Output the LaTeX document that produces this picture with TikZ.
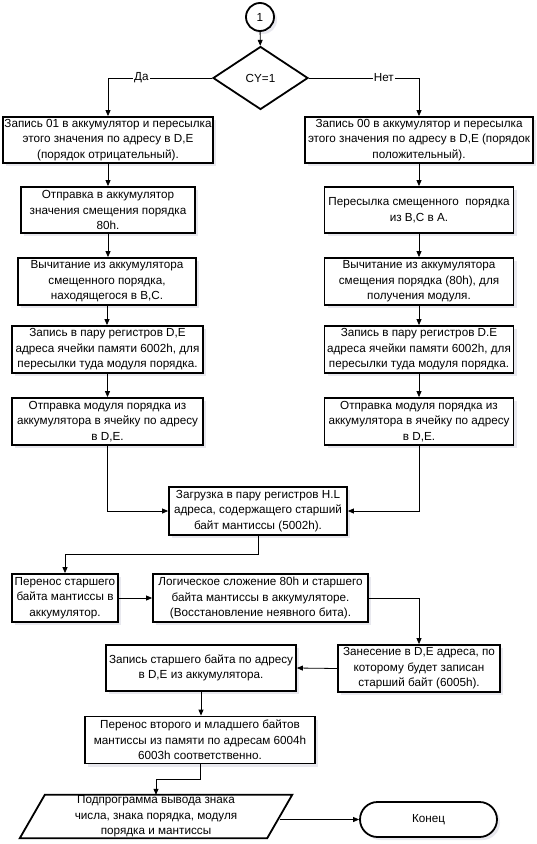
\documentclass[tikz,border=0pt]{standalone}
\usepackage{fontspec}
\setmainfont{Liberation Sans}
\usetikzlibrary{shapes.geometric,shadows,arrows.meta}
\tikzset{
  txt/.style={font=\fontsize{11.7}{15.5}\selectfont},
  shd/.style={drop shadow={shadow xshift=3pt, shadow yshift=-3pt, fill=blue!30!black!15, opacity=0.6}},
  blk/.style={draw, line width=1.8pt, align=center, inner xsep=1pt, inner ysep=1pt, txt, fill=white, shd},
  arr/.style={-{Triangle[length=6pt,width=5pt]}, line width=0.8pt},
  lbl/.style={fill=white, inner sep=1pt, txt},
}
\begin{document}
\begin{tikzpicture}[x=1pt, y=-1pt]
\useasboundingbox[fill=white] (0,0) rectangle (537,844);

\node[circle, draw, line width=1.8pt, minimum size=28pt, inner sep=0pt, txt, fill=white, shd] (c1) at (260,17) {1};
\node[diamond, draw, line width=1.8pt, minimum width=95pt, minimum height=63pt, inner sep=0pt, txt, fill=white] (d) at (260.5,78) {CY=1};

% left column
\node[blk, minimum width=210pt, minimum height=46pt] (L1) at (108,140) {Запись 01 в аккумулятор и пересылка\\этого значения по адресу в D,E\\(порядок отрицательный).};
\node[blk, minimum width=174pt, minimum height=46pt] (L2) at (108,210) {Отправка в аккумулятор\\значения смещения порядка\\80h.};
\node[blk, minimum width=178pt, minimum height=47pt] (L3) at (107,281.5) {Вычитание из аккумулятора\\смещенного порядка,\\находящегося в B,C.};
\node[blk, minimum width=191pt, minimum height=47pt] (L4) at (107.5,349.5) {Запись в пару регистров D,E\\адреса ячейки памяти 6002h, для\\пересылки туда модуля порядка.};
\node[blk, minimum width=191pt, minimum height=47pt] (L5) at (107.5,421.5) {Отправка модуля порядка из\\аккумулятора в ячейку по адресу\\в D,E.};

% right column
\node[blk, minimum width=228pt, minimum height=46pt] (R1) at (419,140) {Запись 00 в аккумулятор и пересылка\\этого значения по адресу в D,E (порядок\\положительный).};
\node[blk, minimum width=189pt, minimum height=46pt] (R2) at (419,210) {Пересылка смещенного\ \ порядка\\из B,C в A.};
\node[blk, minimum width=189pt, minimum height=47pt] (R3) at (419,281.5) {Вычитание из аккумулятора\\смещения порядка (80h), для\\получения модуля.};
\node[blk, minimum width=189pt, minimum height=47pt] (R4) at (419,349.5) {Запись в пару регистров D.E\\адреса ячейки памяти 6002h, для\\пересылки туда модуля порядка.};
\node[blk, minimum width=189pt, minimum height=47pt] (R5) at (419,421.5) {Отправка модуля порядка из\\аккумулятора в ячейку по адресу\\в D,E.};

% center
\node[blk, minimum width=178pt, minimum height=48pt] (C) at (258,511) {Загрузка в пару регистров H.L\\адреса, содержащего старший\\байт мантиссы (5002h).};

\node[blk, minimum width=106pt, minimum height=48pt] (P1) at (65,598) {Перенос старшего\\байта мантиссы в\\аккумулятор.};
\node[blk, minimum width=215pt, minimum height=48pt] (P2) at (260.5,598) {Логическое сложение 80h и старшего\\байта мантиссы в аккумуляторе.\\(Восстановление неявного бита).};
\node[blk, minimum width=162pt, minimum height=47pt] (P3) at (419,668.5) {Занесение в D,E адреса, по\\которому будет записан\\старший байт (6005h).};
\node[blk, minimum width=190pt, minimum height=46pt] (P4) at (201,668) {Запись старшего байта по адресу\\в D,E из аккумулятора.};
\node[blk, minimum width=230pt, minimum height=47pt] (P5) at (200,740) {Перенос второго и младшего байтов\\мантиссы из памяти по адресам 6004h\\6003h соответственно.};

% parallelogram
\node[minimum width=247pt, minimum height=43pt, inner sep=0pt, align=center, txt] (par) at (156,816.5) {Подпрограмма вывода знака\\числа, знака порядка, модуля\\порядка и мантиссы};
\draw[line width=1.8pt, line join=miter]
  ([xshift=12.5pt]par.north west) -- ([xshift=12.5pt]par.north east)
  -- ([xshift=-12.5pt]par.south east) -- ([xshift=-12.5pt]par.south west) -- cycle;

\node[draw, line width=1.8pt, rounded corners=17.5pt, minimum width=137pt, minimum height=35pt, txt, fill=white, shd] (end) at (428.5,819.5) {Конец};

% connectors
\draw[arr] (c1) -- (d);
\draw[arr] (d.west) -- node[lbl, pos=0.68] {Да} (L1.north |- d.west) -- (L1.north);
\draw[arr] (d.east) -- node[lbl, pos=0.68] {Нет} (R1.north |- d.east) -- (R1.north);

\draw[arr] (L1.south) -- (L1.south |- L2.north);
\draw[arr] (L2.south) -- (L2.south |- L3.north);
\draw[arr] (L3.south) -- (L3.south |- L4.north);
\draw[arr] (L4.south) -- (L4.south |- L5.north);
\draw[arr] (R1.south) -- (R1.south |- R2.north);
\draw[arr] (R2.south) -- (R2.south |- R3.north);
\draw[arr] (R3.south) -- (R3.south |- R4.north);
\draw[arr] (R4.south) -- (R4.south |- R5.north);

\draw[arr] (L5.south) |- (C.west);
\draw[arr] (R5.south) |- (C.east);
\draw[arr] (C.south) -- ++(0,18) -| (P1.north);
\draw[arr] (P1.east) -- (P2.west);
\draw[arr] (P2.east) -| (P3.north);
\draw[arr] (P3.west) -- (P4.east);
\draw[arr] (P4.south) -- (P4.south |- P5.north);
\draw[arr] (P5.south) -- ++(0,15) -| (par.north);
\draw[arr] (par.east |- end.west) -- (end.west);
\end{tikzpicture}
\end{document}
